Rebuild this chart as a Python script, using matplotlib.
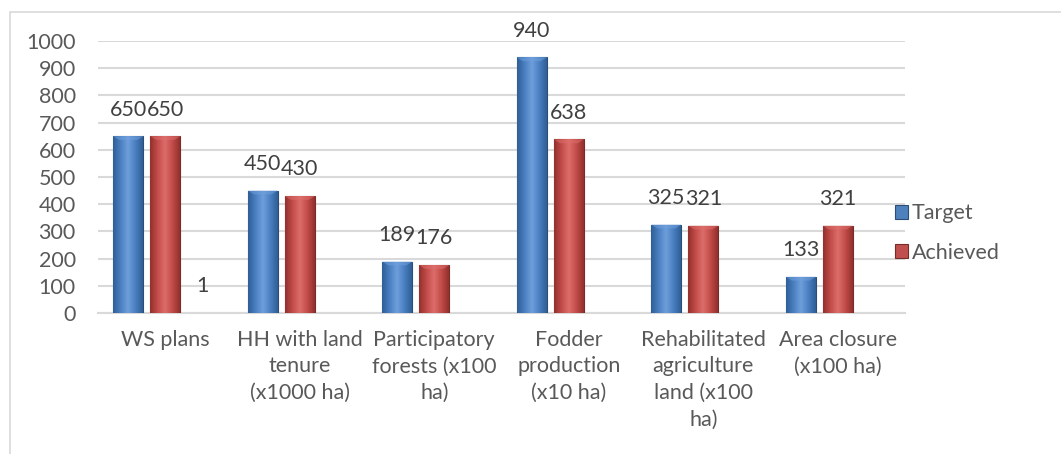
import matplotlib
matplotlib.use("Agg")
import matplotlib.pyplot as plt
import numpy as np
from matplotlib.patches import Rectangle
from matplotlib.colors import LinearSegmentedColormap

plt.rcParams['font.family'] = ['Lato', 'DejaVu Sans']

# chart data
categories = ["WS plans", "HH with land\ntenure\n(x1000 ha)", "Participatory\nforests (x100\nha)",
              "Fodder\nproduction\n(x10 ha)", "Rehabilitated\nagriculture\nland (x100\nha)",
              "Area closure\n(x100 ha)"]
target = [650, 450, 189, 940, 325, 133]
achieved = [650, 430, 176, 638, 321, 321]
extra = [1, np.nan, np.nan, np.nan, np.nan, np.nan]   # third series, only label shown

text_col = "#595959"
grid_col = "#d9d9d9"
fs = 15.5

fig = plt.figure(figsize=(10.61, 4.54), dpi=100)
ax = fig.add_axes([0.0924, 0.3106, 0.7606, 0.5991])

# outer chart frame
fig.patches.append(Rectangle((10 / 1061, -0.1), 1.2, 1 - 12 / 454 + 0.1, transform=fig.transFigure,
                             fill=False, edgecolor="#d9d9d9", linewidth=1.2))

x = np.arange(len(categories))
w = 0.223
step = 0.275


def shade_bars(bars, dark, mid, light):
    # horizontal gradient inside each bar, clipped to it
    cmap = LinearSegmentedColormap.from_list("g", [dark, mid, light, mid, dark])
    grad = np.linspace(0, 1, 64).reshape(1, -1)
    for b in bars:
        x0, y0 = b.get_x(), b.get_y()
        bw, bh = b.get_width(), b.get_height()
        if not np.isfinite(bh) or bh <= 0:
            continue
        im = ax.imshow(grad, extent=[x0, x0 + bw, y0, y0 + bh], aspect="auto",
                       cmap=cmap, zorder=3, interpolation="bicubic")
        im.set_clip_path(b)
        # small light bevel at the top
        bev = min(bh, 14)
        ax.fill([x0, x0 + bw, x0 + bw * 0.8, x0 + bw * 0.2],
                [y0 + bh, y0 + bh, y0 + bh - bev, y0 + bh - bev],
                color=light, alpha=0.55, zorder=4, linewidth=0)


b1 = ax.bar(x - step, target, w, color="#4F81BD", edgecolor="#2c4d75", linewidth=0.8,
            zorder=3, label="Target")
b2 = ax.bar(x, achieved, w, color="#C0504D", edgecolor="#772c2a", linewidth=0.8,
            zorder=3, label="Achieved")
b3 = ax.bar(x + step, extra, w, color="#9BBB59", zorder=3)

shade_bars(b1, "#2f5f96", "#4a7fc1", "#6f9fdc")
shade_bars(b2, "#93302d", "#c24c49", "#dd6e6b")

for bars, vals in [(b1, target), (b2, achieved), (b3, extra)]:
    for b, v in zip(bars, vals):
        if np.isnan(v):
            continue
        ax.annotate(f"{v:g}", (b.get_x() + b.get_width() / 2, v), xytext=(0, 12),
                    textcoords="offset points", ha="center", va="bottom",
                    fontsize=fs, color="#404040")

ax.set_xlim(-0.5, len(categories) - 0.5)
ax.set_ylim(0, 1000)
ax.set_yticks(np.arange(0, 1001, 100))
ax.set_xticks(x)
ax.set_xticklabels(categories, fontsize=fs, color=text_col, linespacing=1.42)
ax.tick_params(axis="y", labelsize=fs, labelcolor=text_col, length=0, pad=16)
ax.tick_params(axis="x", length=0, pad=12)
ax.grid(axis="y", color=grid_col, linewidth=1.5, zorder=0)
ax.set_axisbelow(True)
for s in ["top", "right", "left"]:
    ax.spines[s].set_visible(False)
ax.spines["bottom"].set_color(grid_col)
ax.spines["bottom"].set_linewidth(1.5)

leg = ax.legend(handles=[b1, b2], loc="center left", bbox_to_anchor=(876 / 1061, 1 - 233 / 454),
                bbox_transform=fig.transFigure, frameon=False, fontsize=fs,
                handlelength=0.6, handleheight=0.6, handletextpad=0.15, labelspacing=0.9)
for t in leg.get_texts():
    t.set_color(text_col)

fig.savefig("out.png", dpi=100)
